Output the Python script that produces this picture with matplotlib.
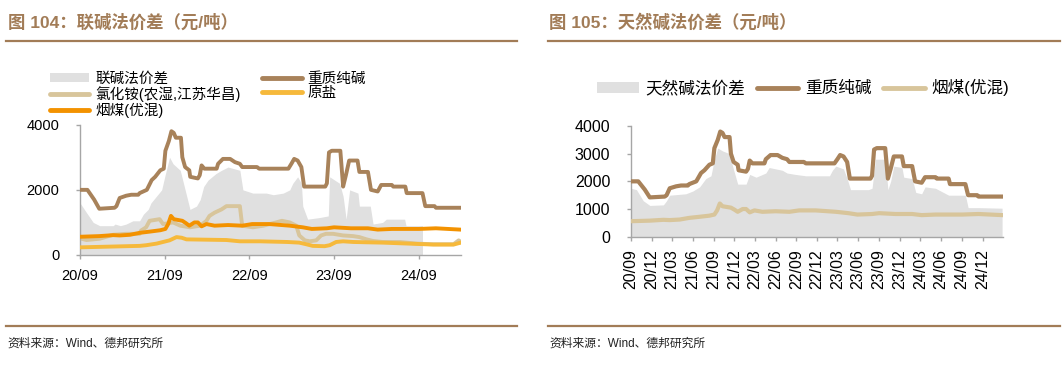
import matplotlib
matplotlib.use("Agg")
import matplotlib.pyplot as plt
import matplotlib.dates as mdates
from matplotlib.patches import Patch
from matplotlib.lines import Line2D
import pandas as pd

plt.rcParams['font.family'] = ['Liberation Sans', 'Noto Sans CJK SC', 'DejaVu Sans']

# ---------------- data ----------------
soda_dates = ['2020-09-01','2020-10-03','2020-11-01','2020-11-23','2021-01-28','2021-02-05','2021-02-19',
              '2021-03-19','2021-04-10','2021-05-10','2021-05-16','2021-06-16','2021-07-07','2021-07-22',
              '2021-08-13','2021-08-28','2021-09-04','2021-09-19','2021-09-30','2021-10-10','2021-10-19',
              '2021-11-10','2021-11-16','2021-11-28','2021-12-16','2021-12-20','2022-01-22','2022-01-30',
              '2022-02-07','2022-02-19','2022-04-13','2022-04-19','2022-05-10','2022-06-10','2022-07-01',
              '2022-07-22','2022-08-01','2022-10-04','2022-10-13','2023-02-16','2023-03-01','2023-03-13',
              '2023-03-28','2023-04-13','2023-04-25','2023-07-25','2023-08-01','2023-08-10','2023-08-22',
              '2023-09-28','2023-10-10','2023-10-22','2023-11-05','2023-12-11','2023-12-19','2024-01-25',
              '2024-02-07','2024-03-07','2024-03-22','2024-05-07','2024-05-13','2024-07-04','2024-07-10',
              '2024-09-16','2024-09-28','2024-11-07','2024-11-13','2025-02-25']
soda_vals = [2000,2000,1700,1420,1450,1500,1750,
             1820,1850,1850,1900,2000,2300,2400,
             2600,2650,3200,3500,3800,3750,3600,
             3600,3000,2700,2600,2400,2350,2450,
             2750,2650,2650,2800,2950,2950,2850,
             2800,2700,2700,2650,2650,2800,2950,
             2900,2700,2100,2100,2200,3150,3200,
             3200,2100,2450,2900,2900,2550,2550,
             2000,1950,2150,2150,2100,2100,1900,
             1900,1500,1500,1450,1450]

coal_dates = ['2020-09-01','2020-11-23','2021-01-22','2021-02-19','2021-04-04','2021-05-16','2021-07-01',
              '2021-08-13','2021-09-04','2021-09-16','2021-09-28','2021-10-10','2021-11-16','2021-12-01',
              '2021-12-16','2022-01-07','2022-01-22','2022-02-07','2022-02-28','2022-04-04','2022-06-01',
              '2022-08-01','2022-09-13','2022-11-25','2023-02-22','2023-04-19','2023-05-28','2023-08-01',
              '2023-09-01','2023-11-13','2024-01-25','2024-03-07','2024-05-07','2024-09-01','2024-11-13',
              '2025-02-25']
coal_vals = [560,580,610,600,620,680,720,
             760,800,950,1200,1100,1050,980,
             900,1000,1000,880,950,900,920,
             900,950,950,900,850,800,820,
             850,820,820,780,800,800,820,
             780]

nh4cl_dates = ['2020-09-01','2020-09-29','2020-11-25','2021-01-22','2021-03-19','2021-05-16','2021-05-22',
               '2021-06-13','2021-06-28','2021-08-10','2021-08-25','2021-10-07','2021-11-07','2021-12-19',
               '2022-02-01','2022-02-28','2022-03-13','2022-04-04','2022-05-04','2022-05-25','2022-07-22',
               '2022-08-01','2022-09-16','2022-11-01','2022-11-28','2022-12-25','2023-01-19','2023-02-22',
               '2023-03-22','2023-04-04','2023-04-28','2023-05-19','2023-06-16','2023-07-07','2023-07-28',
               '2023-08-28','2023-10-10','2023-11-22','2023-12-19','2024-01-19','2024-02-16','2024-03-28',
               '2024-06-10','2024-08-22','2024-11-01','2025-01-28','2025-02-19','2025-02-28']
nh4cl_vals = [510,460,500,620,650,650,750,
              850,1050,1100,950,1000,900,850,
              900,1050,1200,1300,1400,1500,1500,
              900,850,900,950,1000,1050,1000,
              900,600,450,420,450,600,650,
              650,600,580,550,480,430,400,
              400,350,330,330,450,400]

salt_dates = ['2020-09-01','2020-11-25','2021-03-19','2021-05-16','2021-06-13','2021-07-28','2021-08-25',
              '2021-09-22','2021-10-22','2021-11-13','2021-12-04','2022-02-28','2022-05-25','2022-07-22',
              '2022-10-16','2022-12-13','2023-02-10','2023-04-04','2023-05-04','2023-06-01','2023-07-22',
              '2023-08-13','2023-09-10','2023-10-10','2023-11-22','2024-01-19','2024-03-28','2024-06-10',
              '2024-08-22','2024-11-01','2025-01-28','2025-02-28']
salt_vals = [235,250,270,280,300,350,400,
             450,550,530,480,470,460,420,
             420,410,400,380,330,280,270,
             300,400,420,400,390,380,360,
             340,320,320,380]

lianjian_dates = ['2020-09-01','2020-09-29','2020-10-28','2020-11-25','2021-01-22','2021-01-30','2021-02-22',
                  '2021-03-19','2021-04-17','2021-05-16','2021-06-01','2021-06-22','2021-07-04','2021-07-27',
                  '2021-08-19','2021-09-01','2021-09-22','2021-10-07','2021-11-07','2021-11-28','2021-12-19',
                  '2022-01-16','2022-02-01','2022-02-16','2022-03-07','2022-04-10','2022-05-04','2022-06-01',
                  '2022-07-22','2022-08-04','2022-09-16','2022-11-13','2022-12-13','2023-01-25','2023-02-22',
                  '2023-03-07','2023-03-28','2023-04-13','2023-04-19','2023-05-10','2023-07-01','2023-08-07',
                  '2023-08-13','2023-09-25','2023-10-10','2023-10-23','2023-11-07','2023-12-13','2023-12-19',
                  '2024-02-04','2024-02-16','2024-03-28','2024-04-13','2024-07-01','2024-07-07','2024-09-16']
lianjian_vals = [1600,1300,1000,900,900,950,900,
                 950,1050,1050,1250,1400,1600,1800,
                 2000,2400,3000,2800,2600,2000,1400,
                 1500,1700,2100,2300,2500,2600,2700,
                 2600,2000,1900,1900,1850,1900,2000,
                 2200,2400,2200,1500,1100,1150,1200,
                 2400,2200,1800,1100,2000,1900,1500,
                 1500,950,1000,1100,1100,900,900]

natural_dates = ['2020-09-01','2020-09-25','2020-10-25','2020-11-23','2021-01-22','2021-02-05','2021-02-19',
                 '2021-05-01','2021-06-01','2021-07-01','2021-07-28','2021-08-20','2021-09-04','2021-09-19',
                 '2021-10-10','2021-11-10','2021-11-25','2021-12-16','2022-01-22','2022-02-07','2022-03-07',
                 '2022-04-19','2022-05-04','2022-07-01','2022-07-22','2022-08-28','2022-10-13','2023-01-25',
                 '2023-02-07','2023-02-22','2023-03-28','2023-04-13','2023-04-28','2023-07-16','2023-08-01',
                 '2023-08-16','2023-09-28','2023-10-10','2023-10-22','2023-11-05','2023-12-11','2023-12-19',
                 '2024-01-25','2024-02-10','2024-03-07','2024-03-22','2024-05-07','2024-07-04','2024-09-16',
                 '2024-09-28','2024-11-13','2025-02-25']
natural_vals = [1750,1700,1300,1130,1150,1300,1500,
                1550,1650,1800,2100,2200,2800,3200,
                3100,3000,2500,1900,1900,2250,2150,
                2300,2500,2400,2300,2250,2200,2200,
                2400,2550,2450,2100,1700,1700,1750,
                2800,2800,1700,2000,2550,2500,2150,
                2100,1600,1550,1800,1750,1500,1500,
                1050,1050,1030]

left_ticks = ['2020-09-01','2021-09-01','2022-09-01','2023-09-01','2024-09-01']
right_ticks = pd.date_range('2020-09-01', '2024-12-01', freq='3MS')

# ---------------- styles ----------------
C_GRAY = '#e0e0e0'
C_SODA = '#a8825a'
C_NH4 = '#d8c59b'
C_SALT = '#f6b93b'
C_COAL = '#f39200'
C_TITLE = '#a27c57'
C_AX = '#a6a6a6'

W, H = 1063, 367
fig = plt.figure(figsize=(W/100, H/100), dpi=100)

def px_axes(x0, y_top, x1, y_bot):
    return fig.add_axes([x0/W, 1 - y_bot/H, (x1-x0)/W, (y_bot-y_top)/H])

def style(ax, fs):
    for s in ['top', 'right']:
        ax.spines[s].set_visible(False)
    for s in ['left', 'bottom']:
        ax.spines[s].set_color(C_AX)
        ax.spines[s].set_linewidth(1.0)
    ax.tick_params(axis='both', colors=C_AX, labelcolor='black', labelsize=fs,
                   direction='out', length=3, width=1)
    ax.tick_params(axis='y', pad=12)
    ax.set_facecolor('none')

def D(lst):
    return pd.to_datetime(lst)

# titles and rules
fig.text(8/W, 1 - 22/H, '图 104：联碱法价差（元/吨）', fontsize=12.5, fontweight='bold',
         color=C_TITLE, va='center', ha='left')
fig.text(549/W, 1 - 22/H, '图 105：天然碱法价差（元/吨）', fontsize=12.5, fontweight='bold',
         color=C_TITLE, va='center', ha='left')
for (xa, xb) in [(6, 517), (548, 1060)]:
    fig.add_artist(Line2D([xa/W, xb/W], [1 - 41/H, 1 - 41/H], color=C_TITLE, lw=1.6))
    fig.add_artist(Line2D([xa/W, xb/W], [1 - 326/H, 1 - 326/H], color=C_TITLE, lw=1.6))
fig.text(7/W, 1 - 344/H, '资料来源：Wind、德邦研究所', fontsize=8.5, color='#222222', va='center')
fig.text(549/W, 1 - 344/H, '资料来源：Wind、德邦研究所', fontsize=8.5, color='#222222', va='center')

# ---------------- left chart ----------------
ax1 = px_axes(80, 124.7, 461, 255)
ax1.fill_between(D(lianjian_dates), lianjian_vals, 0, color=C_GRAY, lw=0, zorder=1)
ax1.plot(D(nh4cl_dates), nh4cl_vals, color=C_NH4, lw=2.8, zorder=2)
ax1.plot(D(salt_dates), salt_vals, color=C_SALT, lw=2.8, zorder=3)
ax1.plot(D(coal_dates), coal_vals, color=C_COAL, lw=2.8, zorder=4)
ax1.plot(D(soda_dates), soda_vals, color=C_SODA, lw=2.8, zorder=5)
ax1.set_ylim(0, 4000)
ax1.set_yticks([0, 2000, 4000])
ax1.set_xlim(pd.Timestamp('2020-09-01'), pd.Timestamp('2025-03-01'))
ax1.set_xticks(D(left_ticks))
ax1.xaxis.set_major_formatter(mdates.DateFormatter('%y/%m'))
style(ax1, 10.5)
ax1.tick_params(axis='x', pad=7)

h1 = [Patch(facecolor=C_GRAY, edgecolor='none'),
      Line2D([], [], color=C_NH4, lw=3.5, solid_capstyle='round'),
      Line2D([], [], color=C_COAL, lw=3.5, solid_capstyle='round'),
      Line2D([], [], color=C_SODA, lw=3.5, solid_capstyle='round'),
      Line2D([], [], color=C_SALT, lw=3.5, solid_capstyle='round')]
l1 = ['联碱法价差', '氯化铵(农湿,江苏华昌)', '烟煤(优混)', '重质纯碱', '原盐']
fig.legend(h1, l1, ncol=2, loc='upper left', bbox_to_anchor=(50/W, 1 - 72/H),
           frameon=False, fontsize=10.5, handlelength=2.7, handleheight=0.6,
           handletextpad=0.4, columnspacing=1.5, labelspacing=0.02, borderpad=0,
           borderaxespad=0)

# ---------------- right chart ----------------
ax2 = px_axes(631, 126, 1003, 236.7)
ax2.fill_between(D(natural_dates), natural_vals, 0, color=C_GRAY, lw=0, zorder=1)
ax2.plot(D(coal_dates), coal_vals, color=C_NH4, lw=3, zorder=3)
ax2.plot(D(soda_dates), soda_vals, color=C_SODA, lw=3, zorder=4)
ax2.set_ylim(0, 4000)
ax2.set_yticks([0, 1000, 2000, 3000, 4000])
ax2.set_xlim(pd.Timestamp('2020-09-01'), pd.Timestamp('2025-03-01'))
ax2.set_xticks(right_ticks)
ax2.xaxis.set_major_formatter(mdates.DateFormatter('%y/%m'))
style(ax2, 11.5)
ax2.tick_params(axis='x', rotation=90, pad=6)

h2 = [Patch(facecolor=C_GRAY, edgecolor='none'),
      Line2D([], [], color=C_SODA, lw=3.5, solid_capstyle='round'),
      Line2D([], [], color=C_NH4, lw=3.5, solid_capstyle='round')]
l2 = ['天然碱法价差', '重质纯碱', '烟煤(优混)']
fig.legend(h2, l2, ncol=3, loc='upper left', bbox_to_anchor=(597/W, 1 - 79/H),
           frameon=False, fontsize=12, handlelength=2.5, handleheight=0.6,
           handletextpad=0.4, columnspacing=0.7, borderpad=0, borderaxespad=0)

fig.savefig('out.png', dpi=100)
